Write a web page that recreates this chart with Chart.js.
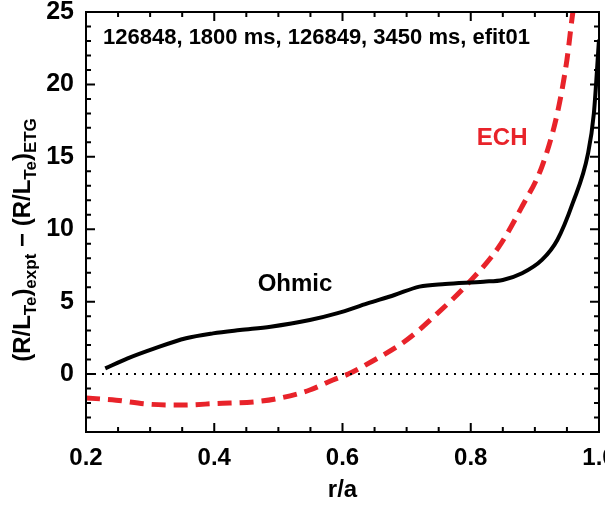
<!DOCTYPE html>
<html>
<head>
<meta charset="utf-8">
<script src="https://cdn.jsdelivr.net/npm/chart.js@4/dist/chart.umd.min.js"></script>
<style>
  html, body { margin: 0; padding: 0; background: #fff; }
  #wrap { width: 605px; height: 505px; }
</style>
</head>
<body>
<div id="wrap"><canvas id="grafico"></canvas></div>
<script>
// ---- dados ----
const ohmicX = [0.23, 0.265, 0.307, 0.356, 0.398, 0.44, 0.488, 0.549, 0.591, 0.639, 0.681, 0.72, 0.76, 0.82, 0.85, 0.88, 0.911, 0.935, 0.959, 0.983, 0.992, 1.0];
const ohmicY = [0.39, 1.08, 1.77, 2.47, 2.81, 3.04, 3.27, 3.73, 4.19, 4.88, 5.46, 6.04, 6.22, 6.38, 6.5, 6.96, 7.88, 9.26, 11.8, 15.25, 18.0, 23.1];

const echX = [0.2, 0.247, 0.295, 0.35, 0.404, 0.464, 0.5, 0.549, 0.585, 0.609, 0.645, 0.7, 0.748, 0.796, 0.844, 0.88, 0.911, 0.935, 0.95, 0.959, 0.965];
const echY = [-1.65, -1.8, -2.07, -2.14, -2.03, -1.91, -1.68, -1.1, -0.41, 0.0, 0.85, 2.35, 4.19, 6.27, 8.8, 11.57, 14.33, 18.0, 21.7, 24.9, 26.5];

const zeroX = [0.2, 1.0];
const zeroY = [0, 0];

const xTicks = [0.2, 0.4, 0.6, 0.8, 1.0];
const yTicks = [0, 5, 10, 15, 20, 25];

const rotulos = [
  { texto: "Ohmic", x: 0.526, y: 6.2, cor: "#000" },
  { texto: "ECH", x: 0.849, y: 16.3, cor: "#e8232a" }
];
const titulo = "126848, 1800 ms, 126849, 3450 ms, efit01";

const fonte = '"Liberation Sans Narrow", "Liberation Sans", Arial, sans-serif';
const pares = (xs, ys) => xs.map((x, i) => ({ x: x, y: ys[i] }));

// ---- moldura, ticks internos e textos ----
const moldura = {
  id: "moldura",
  afterDraw(chart) {
    const { ctx, chartArea: a, scales } = chart;
    const sx = scales.x, sy = scales.y;
    ctx.save();
    ctx.strokeStyle = "#000";
    ctx.lineWidth = 2;
    ctx.strokeRect(a.left, a.top, a.right - a.left, a.bottom - a.top);

    ctx.beginPath();
    for (let i = 0; i <= 16; i++) {
      const v = 0.2 + i * 0.05;
      const px = sx.getPixelForValue(v);
      const len = (i % 4 === 0) ? 9 : 5;
      ctx.moveTo(px, a.bottom); ctx.lineTo(px, a.bottom - len);
      ctx.moveTo(px, a.top); ctx.lineTo(px, a.top + len);
    }
    for (let v = -4; v <= 25; v++) {
      const py = sy.getPixelForValue(v);
      const len = (v % 5 === 0) ? 9 : 5;
      ctx.moveTo(a.left, py); ctx.lineTo(a.left + len, py);
      ctx.moveTo(a.right, py); ctx.lineTo(a.right - len, py);
    }
    ctx.stroke();

    // título interno
    ctx.fillStyle = "#000";
    ctx.font = "bold 22px " + fonte;
    ctx.textAlign = "left";
    ctx.textBaseline = "alphabetic";
    ctx.fillText(titulo, a.left + 17, a.top + 32);

    // rótulos das curvas
    ctx.font = "bold 24px " + fonte;
    ctx.textAlign = "center";
    ctx.textBaseline = "middle";
    rotulos.forEach(r => {
      ctx.fillStyle = r.cor;
      ctx.fillText(r.texto, sx.getPixelForValue(r.x), sy.getPixelForValue(r.y));
    });

    // título do eixo y com subscritos
    const partes = [
      ["(R/L", 0], ["Te", 1], [")", 0], ["expt", 1], [" \u2212 (R/L", 0], ["Te", 1], [")", 0], ["ETG", 1]
    ];
    const fN = "bold 24px " + fonte, fS = "bold 17px " + fonte;
    let total = 0;
    partes.forEach(p => { ctx.font = p[1] ? fS : fN; total += ctx.measureText(p[0]).width; });
    ctx.translate(30, 240);
    ctx.rotate(-Math.PI / 2);
    ctx.fillStyle = "#000";
    ctx.textAlign = "left";
    ctx.textBaseline = "alphabetic";
    let cx = -total / 2;
    partes.forEach(p => {
      ctx.font = p[1] ? fS : fN;
      ctx.fillText(p[0], cx, p[1] ? 6 : 0);
      cx += ctx.measureText(p[0]).width;
    });
    ctx.restore();
  }
};

new Chart(document.getElementById("grafico"), {
  type: "line",
  data: {
    datasets: [
      {
        label: "zero",
        data: pares(zeroX, zeroY),
        borderColor: "#000",
        borderWidth: 2,
        borderDash: [2, 6],
        pointRadius: 0
      },
      {
        label: "Ohmic",
        data: pares(ohmicX, ohmicY),
        borderColor: "#000",
        borderWidth: 4,
        pointRadius: 0,
        cubicInterpolationMode: "monotone"
      },
      {
        label: "ECH",
        data: pares(echX, echY),
        borderColor: "#e8232a",
        borderWidth: 5,
        borderDash: [14, 8],
        pointRadius: 0,
        cubicInterpolationMode: "monotone"
      }
    ]
  },
  options: {
    responsive: true,
    maintainAspectRatio: false,
    animation: false,
    layout: { padding: { top: 12, right: 6, left: 0, bottom: 0 } },
    plugins: { legend: { display: false }, tooltip: { enabled: false } },
    scales: {
      x: {
        type: "linear",
        min: 0.2,
        max: 1.0,
        grid: { display: false, drawTicks: false },
        border: { display: false },
        afterBuildTicks: s => { s.ticks = xTicks.map(v => ({ value: v })); },
        afterFit: s => { s.height = 73; s.paddingLeft = 0; s.paddingRight = 0; },
        ticks: {
          color: "#000",
          padding: 12,
          font: { family: fonte, size: 24, weight: "bold" },
          callback: v => Number(v).toFixed(1)
        },
        title: {
          display: true,
          text: "r/a",
          color: "#000",
          padding: { top: 2, bottom: 0 },
          font: { family: fonte, size: 24, weight: "bold" }
        }
      },
      y: {
        min: -4,
        max: 25,
        grid: { display: false, drawTicks: false },
        border: { display: false },
        afterBuildTicks: s => { s.ticks = yTicks.map(v => ({ value: v })); },
        afterFit: s => { s.width = 86; s.paddingTop = 0; s.paddingBottom = 0; },
        ticks: {
          color: "#000",
          padding: 12,
          font: { family: fonte, size: 25, weight: "bold" }
        }
      }
    }
  },
  plugins: [moldura]
});
</script>
</body>
</html>
